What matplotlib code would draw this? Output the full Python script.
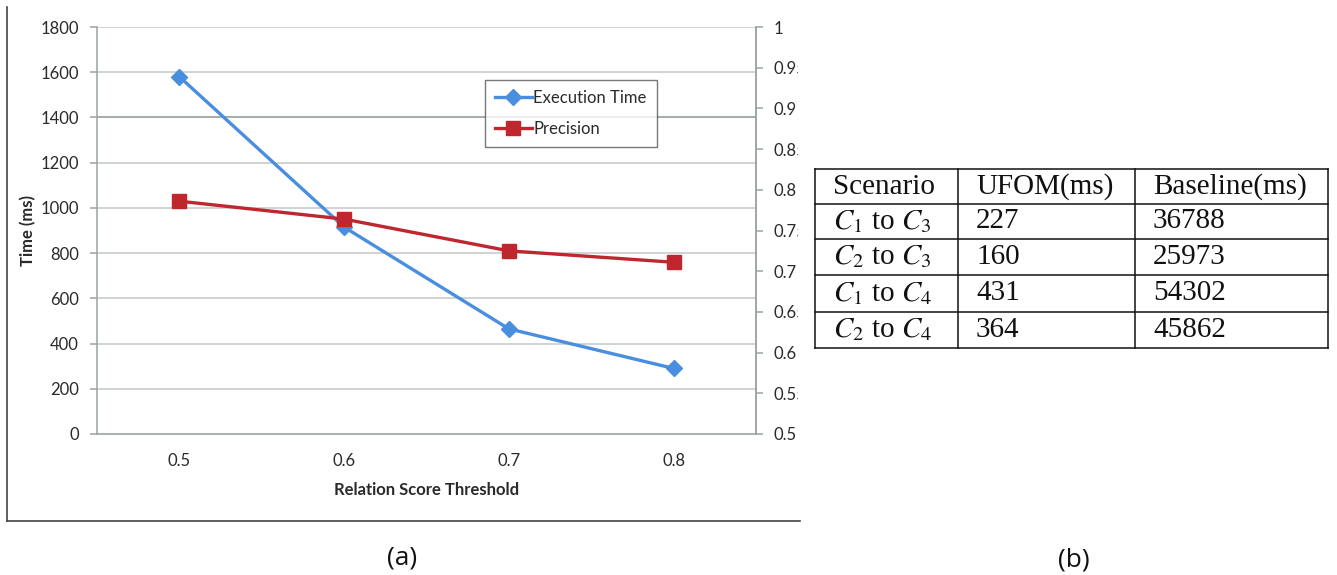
import matplotlib
matplotlib.use("Agg")
import matplotlib.pyplot as plt
from matplotlib.lines import Line2D
from matplotlib.transforms import Bbox

# ---------------- data ----------------
thresholds = ["0.5", "0.6", "0.7", "0.8"]
exec_time = [1580, 915, 465, 290]
precision = [0.786, 0.764, 0.725, 0.711]
time_ticks = [0, 200, 400, 600, 800, 1000, 1200, 1400, 1600, 1800]
prec_ticks = [0.5, 0.55, 0.6, 0.65, 0.7, 0.75, 0.8, 0.85, 0.9, 0.95, 1.0]
prec_labels = ["0.5", "0.55", "0.6", "0.65", "0.7", "0.75", "0.8", "0.85", "0.9", "0.95", "1"]

table_header = ["Scenario", "UFOM(ms)", "Baseline(ms)"]
table_scenarios = ["$C_1$ to $C_3$", "$C_2$ to $C_3$", "$C_1$ to $C_4$", "$C_2$ to $C_4$"]
table_ufom = ["227", "160", "431", "364"]
table_baseline = ["36788", "25973", "54302", "45862"]

# ---------------- style ----------------
W, H = 1337, 575
plt.rcParams['font.family'] = ['Lato', 'DejaVu Sans']
plt.rcParams['mathtext.fontset'] = 'stix'
BLUE = '#4a8ee0'
RED = '#c0262d'
GRID = '#c3c8c8'
AXC = '#9aa3a3'
TXT = '#2a2a2a'
FS = 12

fig = plt.figure(figsize=(W / 100, H / 100), dpi=100)

def fr(x0, y0, x1, y1):
    return [x0 / W, 1 - y1 / H, (x1 - x0) / W, (y1 - y0) / H]

# ---------------- chart (a) ----------------
ax = fig.add_axes(fr(97, 27, 756, 434))
xs = [i + 0.5 for i in range(len(thresholds))]
ax.set_xlim(0, len(thresholds))
ax.set_ylim(0, 1800)
ax.set_yticks(time_ticks)
ax.set_xticks(xs)
ax.set_xticklabels(thresholds)
ax.yaxis.grid(True, color=GRID, linewidth=1.1)
ax.set_axisbelow(True)
for i, gl in enumerate(ax.get_ygridlines()):
    if time_ticks[i] == 1400:
        gl.set_color('#8d9595')
ax.spines['top'].set_visible(False)
for s in ['left', 'bottom', 'right']:
    ax.spines[s].set_color(AXC)
    ax.spines[s].set_linewidth(1.1)
ax.tick_params(axis='y', length=5, color=AXC, width=1.1, pad=8, labelsize=FS, labelcolor=TXT)
ax.tick_params(axis='x', length=0, pad=14, labelsize=FS, labelcolor=TXT)
ax.set_ylabel("Time (ms)", fontsize=FS, fontweight='bold', color=TXT, labelpad=3)
ax.set_xlabel("Relation Score Threshold", fontsize=FS, fontweight='bold', color=TXT, labelpad=9)

l1, = ax.plot(xs, exec_time, color=BLUE, linewidth=2.4, marker='D', markersize=8.5,
              label="Execution Time", zorder=3)

ax2 = ax.twinx()
ax2.set_ylim(0.5, 1.0)
ax2.set_yticks(prec_ticks)
ax2.set_yticklabels(prec_labels)
for s in ['top', 'left', 'bottom']:
    ax2.spines[s].set_visible(False)
ax2.spines['right'].set_color(AXC)
ax2.spines['right'].set_linewidth(1.1)
ax2.tick_params(axis='y', length=5, color=AXC, width=1.1, pad=7.5, labelsize=FS, labelcolor=TXT)
l2, = ax2.plot(xs, precision, color=RED, linewidth=2.4, marker='s', markersize=9.5,
               label="Precision", zorder=3)

clip = Bbox.from_extents(0, 0, 798, H)
for lab in ax2.get_yticklabels():
    lab.set_clip_box(clip)
    lab.set_clip_on(True)

leg = fig.legend(handles=[l1, l2], loc='upper left',
                 bbox_to_anchor=(485 / W, 1 - 80 / H), fontsize=FS,
                 frameon=True, fancybox=False, borderpad=0.6, labelspacing=0.9,
                 handlelength=2.2, handletextpad=0.1, borderaxespad=0)
leg.get_frame().set_edgecolor('#555555')
leg.get_frame().set_linewidth(1.0)
for t in leg.get_texts():
    t.set_color(TXT)

# outer frame (left and bottom edges)
fig.add_artist(Line2D([7 / W, 7 / W], [1 - 7 / H, 1 - 521 / H], color='#444444', linewidth=1.2))
fig.add_artist(Line2D([7 / W, 800 / W], [1 - 521 / H, 1 - 521 / H], color='#444444', linewidth=1.2))

fig.text(402 / W, 1 - 558 / H, "(a)", ha='center', va='center', fontsize=19,
         family=['Open Sans', 'DejaVu Sans'], color='#111111')
fig.text(1074 / W, 1 - 560 / H, "(b)", ha='center', va='center', fontsize=19,
         family=['Open Sans', 'DejaVu Sans'], color='#111111')

# ---------------- table (b) ----------------
tx = [815, 958, 1135, 1328]
ty = [169, 204, 239, 275, 312, 348]
tab = fig.add_axes([0, 0, 1, 1])
tab.set_xlim(0, W)
tab.set_ylim(H, 0)
tab.axis('off')
for x in tx:
    tab.plot([x, x], [ty[0], ty[-1]], color='#111111', linewidth=1.1)
for y in ty:
    tab.plot([tx[0], tx[-1]], [y, y], color='#111111', linewidth=1.1)

rows = [table_header] + [[s, u, b] for s, u, b in zip(table_scenarios, table_ufom, table_baseline)]
for r, row in enumerate(rows):
    yc = (ty[r] + ty[r + 1]) / 2
    for c, val in enumerate(row):
        tab.text(tx[c] + 18, yc, val, ha='left', va='center', fontsize=21,
                 family=['Liberation Serif', 'DejaVu Serif'], color='#111111')

fig.savefig("out.png", dpi=100)
